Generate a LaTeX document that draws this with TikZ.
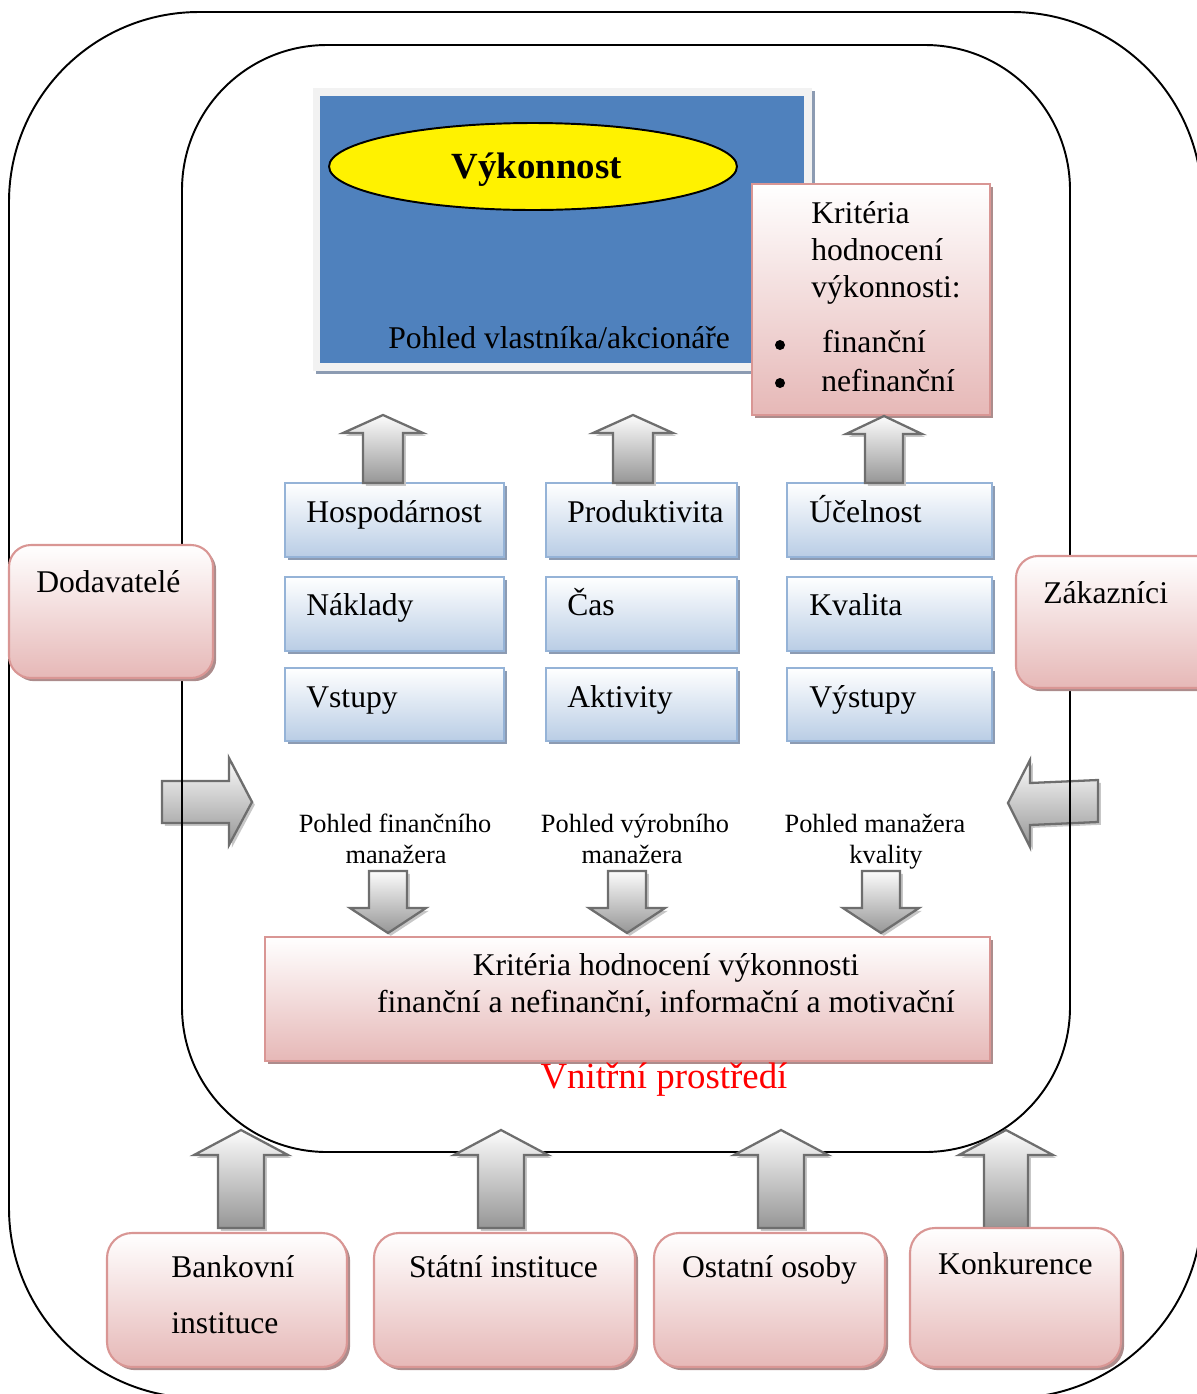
\documentclass[tikz,border=0pt]{standalone}
\usepackage{fontspec}
\setmainfont{Liberation Serif}
\usetikzlibrary{shadows,fit,shapes.geometric}

\definecolor{pinkline}{RGB}{217,150,148}
\definecolor{pinkfill}{RGB}{230,184,183}
\definecolor{pinkshadow}{RGB}{172,140,140}
\definecolor{blueline}{RGB}{149,179,215}
\definecolor{bluefill}{RGB}{185,205,229}
\definecolor{blueshadow}{RGB}{140,155,178}
\definecolor{panelblue}{RGB}{79,129,189}
\definecolor{panelframe}{RGB}{242,242,242}
\definecolor{arrline}{RGB}{110,110,110}
\definecolor{arrtop}{RGB}{252,252,252}
\definecolor{arrbot}{RGB}{150,150,150}

% block arrow pointing up: cx, tip y, head base y, shaft bottom y, head half width, shaft half width
\newcommand{\blockup}[6]{%
  \path[blockarrow] ({#1-#6},#4) -- ({#1-#6},#3) -- ({#1-#5},#3) -- (#1,#2)
    -- ({#1+#5},#3) -- ({#1+#6},#3) -- ({#1+#6},#4) -- cycle;}
% block arrow pointing down: cx, shaft top y, head base y, tip y, head half width, shaft half width
\newcommand{\blockdown}[6]{%
  \path[blockarrow] ({#1-#6},#2) -- ({#1+#6},#2) -- ({#1+#6},#3) -- ({#1+#5},#3)
    -- (#1,#4) -- ({#1-#5},#3) -- ({#1-#6},#3) -- cycle;}

\begin{document}
\begin{tikzpicture}[x=0.02cm, y=-0.02cm,
  ring/.style={draw=black, line width=1.1pt},
  txt/.style={font=\fontsize{18}{21}\selectfont, inner sep=0pt},
  lbl/.style={font=\fontsize{15}{18}\selectfont, inner sep=0pt},
  listdot/.style={circle, fill=black, minimum size=0.2cm, inner sep=0pt},
  pinkbox/.style={draw=pinkline, line width=1.2pt, top color=white, bottom color=pinkfill,
    inner sep=0pt,
    drop shadow={shadow xshift=1.8pt, shadow yshift=-1.8pt, fill=pinkshadow, opacity=1}},
  bluecell/.style={draw=blueline, line width=1.2pt, top color=white, bottom color=bluefill,
    inner sep=0pt,
    drop shadow={shadow xshift=1.8pt, shadow yshift=-1.8pt, fill=blueshadow, opacity=1}},
  blockarrow/.style={draw=arrline, line width=1.3pt, line join=miter,
    top color=arrtop, bottom color=arrbot,
    drop shadow={shadow xshift=1.6pt, shadow yshift=-1.6pt, fill=black!22, opacity=1}},
]
\useasboundingbox (0,0) rectangle (1197,1394);
\clip (0,0) rectangle (1197,1394);

% side arrows (the inner boundary line runs over them)
\path[blockarrow] (162,781) -- (229,781) -- (229,758) -- (252,802) -- (229,845)
  -- (229,823) -- (162,823) -- cycle;
\path[blockarrow] (1098,780) -- (1030,783) -- (1030,760) -- (1008,803) -- (1030,847)
  -- (1030,825) -- (1098,822) -- cycle;

% environment boundaries
\draw[ring, rounded corners=3.8cm] (9,12) rectangle (1202,1398);
\draw[ring, rounded corners=2.9cm] (182,45) rectangle (1070,1152);

% owner panel
\node[fit={(313,88)(812,371)}, fill=panelframe, inner sep=0pt,
  drop shadow={shadow xshift=1.5pt, shadow yshift=-1.5pt, fill=blueshadow, opacity=1}] (frame) {};
\node[fit={(320,96)(804,363)}, fill=panelblue, inner sep=0pt] (panel) {};
\node[ellipse, draw=black, line width=1.1pt, fill=yellow, minimum width=8.16cm,
  minimum height=1.74cm, inner sep=0pt] (vyk) at (533,166.5) {};
\node[inner sep=0pt, anchor=base, font=\fontsize{21}{25}\selectfont\bfseries] (vyktxt) at (537,178) {Výkonnost};
\node[txt, anchor=base west] (owner) at (388,348) {Pohled vlastníka/akcionáře};

% criteria box
\node[pinkbox, fit={(752,184)(990,415)}] (krit) {};
\node[txt, anchor=base west] (kr1) at (811,223) {Kritéria};
\node[txt, anchor=base west] (kr2) at (811,260) {hodnocení};
\node[txt, anchor=base west] (kr3) at (811,297) {výkonnosti:};
\node[listdot] (bul1) at (780,345) {};
\node[listdot] (bul2) at (780,383) {};
\node[txt, anchor=base west] (kr4) at (822,352) {finanční};
\node[txt, anchor=base west] (kr5) at (821,391) {nefinanční};

% grid of cells
\node[bluecell, fit={(285,483)(504,557)}] (c11) {};
\node[bluecell, fit={(546,483)(737,557)}] (c12) {};
\node[bluecell, fit={(787,483)(992,557)}] (c13) {};
\node[bluecell, fit={(285,577)(504,651)}] (c21) {};
\node[bluecell, fit={(546,577)(737,651)}] (c22) {};
\node[bluecell, fit={(787,577)(992,651)}] (c23) {};
\node[bluecell, fit={(285,668)(504,741)}] (c31) {};
\node[bluecell, fit={(546,668)(737,741)}] (c32) {};
\node[bluecell, fit={(787,668)(992,741)}] (c33) {};

\node[txt, anchor=base west] (t11) at (306,522) {Hospodárnost};
\node[txt, anchor=base west] (t12) at (567,522) {Produktivita};
\node[txt, anchor=base west] (t13) at (809,522) {Účelnost};
\node[txt, anchor=base west] (t21) at (306,615) {Náklady};
\node[txt, anchor=base west] (t22) at (567,615) {Čas};
\node[txt, anchor=base west] (t23) at (809,615) {Kvalita};
\node[txt, anchor=base west] (t31) at (306,707) {Vstupy};
\node[txt, anchor=base west] (t32) at (567,707) {Aktivity};
\node[txt, anchor=base west] (t33) at (809,707) {Výstupy};

% arrows from the top row of cells
\blockup{383}{415}{433}{483}{40}{20}
\blockup{633}{415}{433}{483}{40}{20}
\blockup{884}{416}{434}{483}{38}{19}

% manager views
\node[lbl, anchor=base] (v1a) at (395,832) {Pohled finančního};
\node[lbl, anchor=base] (v1b) at (396,863) {manažera};
\node[lbl, anchor=base] (v2a) at (635,832) {Pohled výrobního};
\node[lbl, anchor=base] (v2b) at (632,863) {manažera};
\node[lbl, anchor=base] (v3a) at (875,832) {Pohled manažera};
\node[lbl, anchor=base] (v3b) at (886,863) {kvality};

\blockdown{388}{871}{908}{933}{38}{19}
\blockdown{627}{871}{908}{933}{38}{19}
\blockdown{881}{871}{908}{933}{38}{19}

% summary of criteria
\node[pinkbox, fit={(265,937)(990,1061)}] (summary) {};
\node[txt, anchor=base] (s1) at (666,975) {Kritéria hodnocení výkonnosti};
\node[txt, anchor=base] (s2) at (666,1012) {finanční a nefinanční, informační a motivační};
\node[inner sep=0pt, anchor=base, text=red, font=\fontsize{21}{25}\selectfont] (inner) at (664,1088) {Vnitřní prostředí};

% suppliers and customers
\node[pinkbox, rounded corners=0.44cm, fit={(9,545)(213,678)}] (dod) {};
\node[txt, anchor=base west] (dodtxt) at (36,592) {Dodavatelé};
\node[pinkbox, rounded corners=0.44cm, fit={(1016,556)(1220,688)}] (zak) {};
\node[txt, anchor=base west] (zaktxt) at (1043,603) {Zákazníci};

% external stakeholders
\blockup{241}{1130}{1155}{1228}{47}{23}
\blockup{501}{1130}{1155}{1228}{47}{23}
\blockup{781}{1130}{1155}{1228}{47}{23}
\blockup{1006}{1130}{1155}{1228}{47}{22}

\node[pinkbox, rounded corners=0.5cm, fit={(107,1233)(347,1367)}] (bank) {};
\node[txt, anchor=base west] (bank1) at (171,1277) {Bankovní};
\node[txt, anchor=base west] (bank2) at (171,1333) {instituce};
\node[pinkbox, rounded corners=0.5cm, fit={(374,1233)(635,1367)}] (stat) {};
\node[txt, anchor=base] (stattxt) at (503.5,1277) {Státní instituce};
\node[pinkbox, rounded corners=0.5cm, fit={(654,1233)(885,1367)}] (ost) {};
\node[txt, anchor=base] (osttxt) at (769.5,1277) {Ostatní osoby};
\node[pinkbox, rounded corners=0.5cm, fit={(910,1228)(1121,1367)}] (konk) {};
\node[txt, anchor=base] (konktxt) at (1015.5,1274) {Konkurence};
\end{tikzpicture}
\end{document}
